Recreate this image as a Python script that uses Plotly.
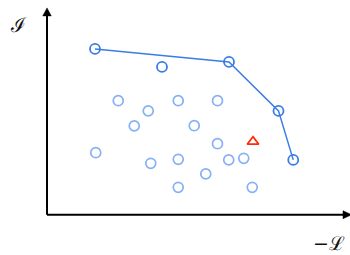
import plotly.graph_objects as go

# Pareto frontier (dark blue, connected)
front_x = [1.92, 7.28, 9.26, 9.85]
front_y = [8.29, 7.64, 5.19, 2.74]
# extra dark-blue point (not on line)
dark_x = [4.60]
dark_y = [7.39]
# other candidates (light blue)
light_x = [2.85, 5.25, 6.82, 4.05, 3.49, 5.89, 6.82, 1.95, 4.15, 5.25, 7.27, 7.87, 6.35, 5.25, 8.21]
light_y = [5.70, 5.70, 5.70, 5.19, 4.44, 4.45, 3.55, 3.10, 2.57, 2.77, 2.74, 2.82, 2.04, 1.37, 1.37]
# red triangle
red_x = [8.24]
red_y = [3.65]

DARK = "#3a7de6"
LIGHT = "#86b0f7"
RED = "#ff2a0a"

fig = go.Figure()
fig.add_trace(go.Scatter(x=light_x, y=light_y, mode="markers",
                         marker=dict(symbol="circle-open", size=10, color=LIGHT, line=dict(width=1.7, color=LIGHT))))
fig.add_trace(go.Scatter(x=front_x, y=front_y, mode="lines+markers",
                         line=dict(color=DARK, width=1.5),
                         marker=dict(symbol="circle-open", size=10, color=DARK, line=dict(width=1.8, color=DARK))))
fig.add_trace(go.Scatter(x=dark_x, y=dark_y, mode="markers",
                         marker=dict(symbol="circle-open", size=10, color=DARK, line=dict(width=1.8, color=DARK))))
fig.add_trace(go.Scatter(x=red_x, y=red_y, mode="markers",
                         marker=dict(symbol="triangle-up-open", size=10, color=RED, line=dict(width=1.8, color=RED))))

# axes lines with arrowheads
fig.add_shape(type="line", x0=0, y0=0, x1=0, y1=10.0, xref="x", yref="y", line=dict(color="black", width=2))
fig.add_shape(type="line", x0=0, y0=0, x1=11.9, y1=0, xref="x", yref="y", line=dict(color="black", width=2))
fig.add_shape(type="path", path="M -0.17 9.94 L 0 10.34 L 0.17 9.94 Z", xref="x", yref="y",
              fillcolor="black", line=dict(color="black", width=0.5))
fig.add_shape(type="path", path="M 11.84 -0.2 L 12.18 0 L 11.84 0.2 Z", xref="x", yref="y",
              fillcolor="black", line=dict(color="black", width=0.5))

fig.add_annotation(x=18/350, y=1 - 25/255, xref="paper", yref="paper", text="ℐ", showarrow=False,
                   font=dict(family="DejaVu Serif", size=20, color="#111"), xanchor="center", yanchor="middle")
fig.add_annotation(x=346/350, y=1 - 243/255, xref="paper", yref="paper", text="−ℒ", showarrow=False,
                   borderpad=0, font=dict(family="DejaVu Serif", size=19, color="#111"),
                   xanchor="right", yanchor="middle")

fig.update_xaxes(range=[-1.88, 12.12], visible=False)
fig.update_yaxes(range=[-2.015, 10.735], visible=False)
fig.update_layout(width=350, height=255, margin=dict(l=0, r=0, t=0, b=0),
                  plot_bgcolor="white", paper_bgcolor="white", showlegend=False, hovermode=False)

fig.write_html("out.html", config={"displayModeBar": False},
               post_script="document.body.style.margin='0';document.body.style.overflow='hidden';")
